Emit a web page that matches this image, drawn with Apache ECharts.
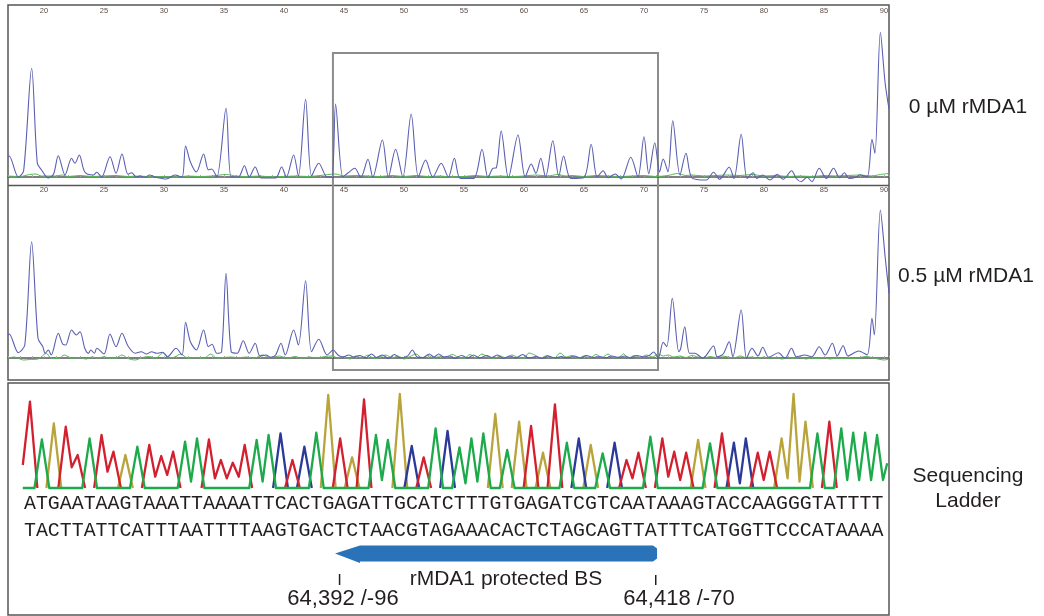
<!DOCTYPE html>
<html>
<head>
<meta charset="utf-8">
<script src="https://cdn.jsdelivr.net/npm/echarts@6/dist/echarts.min.js"></script>
<style>html,body{margin:0;padding:0;background:#fff;}#c{width:1044px;height:616px;}</style>
</head>
<body>
<div id="c"></div>
<script>
// ---------- DATA ----------
// Ruler (base position) tick labels every 5: 20 ... 90
var rulerLabels = [20, 25, 30, 35, 40, 45, 50, 55, 60, 65, 70, 75, 80, 85, 90];

// Panel 1: 0 µM rMDA1 — blue (FAM) trace points [position, signal]
var p1Blue = [[17.0,20],[17.1,21],[17.86,0],[18.3,6],[18.97,108.7],[19.44,14],[19.8,7],[20.36,-1],[20.8,3],[21.19,21.3],[21.75,2],[22.3,18.7],[22.58,13.7],[22.94,22],[23.4,5],[24.1,2],[24.4,4.7],[24.8,0],[25.5,20.3],[26.0,3.7],[26.5,23],[27.0,2.7],[27.3,4.3],[27.7,0],[28.0,1],[28.4,-0.3],[28.8,2],[29.25,0],[30.2,-2],[30.9,2],[31.5,0],[31.8,31],[32.2,15],[32.7,5],[33.3,23],[33.7,7],[33.97,8],[34.4,0],[35.17,68.7],[35.6,0],[36.2,0],[36.7,11.3],[37.1,0],[37.6,10],[38.1,-1],[39.3,-1],[39.8,10],[40.2,0],[40.8,22],[41.2,1],[41.8,77.7],[42.3,1],[42.9,13.7],[43.6,0],[44.0,0],[44.3,73],[44.9,0],[45.3,3.7],[45.9,8.7],[46.4,-0.5],[47.0,17.7],[47.4,0],[48.2,37],[48.7,0],[49.3,27.7],[49.9,0],[50.6,63],[51.2,0],[51.8,17],[52.4,0],[53.1,13.7],[53.7,0],[54.2,18.7],[54.7,-1.5],[55.8,-1.5],[56.5,27.7],[57.0,-0.8],[57.4,8.7],[57.7,9.3],[58.1,46],[58.7,-0.8],[59.5,42],[60.1,0],[60.6,13],[61.0,3.7],[61.4,18.7],[61.8,0],[62.4,36.3],[62.9,0.7],[63.3,21],[63.9,-1.5],[65.0,-0.5],[65.6,32.7],[66.1,0],[66.6,6.3],[67.0,-0.8],[67.6,3],[68.1,-2],[68.9,19.7],[69.5,0],[70.0,40.3],[70.4,3.3],[70.9,34.3],[71.3,5],[71.6,18],[72.0,5.3],[72.4,56.3],[73.0,2],[73.5,23.7],[74.0,-0.8],[75.2,-3],[75.8,4.7],[76.3,-2.3],[77.1,9.7],[77.5,-1.5],[78.1,42.7],[78.6,-1.5],[79.1,4.3],[79.4,-1.5],[79.9,2],[80.5,-3],[81.1,2.7],[81.6,-2.3],[82.3,6.3],[82.7,-1.5],[83.1,-4.7],[83.6,-0.3],[84.0,-4.7],[84.6,8.7],[85.2,-1.5],[85.8,8.7],[86.3,-0.8],[86.7,4.3],[87.1,-1.5],[87.7,0],[88.0,2.3],[88.6,0],[89.0,37.7],[89.25,23.7],[89.7,144.7],[90.1,93.7],[90.42,68]];

// Panel 1: green (size standard) trace
var p1Green = [[17,1],[18,0.5],[18.8,2.5],[19.3,3],[19.8,1],[21,1],[21.5,2],[22,0.5],[23,1.5],[24,0.5],[25,1],[26,1.5],[27,0.5],[28,1],[29,0],[30,0.5],[31,0],[32,1],[33,0.5],[34,1],[35.2,2.5],[36,1],[37,0.5],[38,1],[39,0],[40,0.5],[41,1],[42,0.5],[43,1.5],[44.3,3],[45,1],[46,1.5],[47,1],[48,0.5],[49,1.5],[50,0.5],[51,1.5],[52,0.5],[53,1],[54,0],[55,0.5],[56,1.5],[57,0.5],[58,1],[59,0.5],[60,1],[61,2],[62,1],[62.8,2.5],[63.5,1],[64,1.5],[65,0.5],[66,1.5],[67,1],[68,0.5],[69,1],[70,1.5],[71,0.5],[72,1.5],[72.8,3.5],[73.5,1.5],[74,2],[75,1],[76,1.5],[77,2],[78,1.5],[79,2.5],[80,1],[81,1.5],[82,0.5],[83,1],[84,0.5],[85,1.5],[86,1],[87,1.5],[88,2],[89,1],[89.7,2.5],[90.42,3.5]];

// Panel 2: 0.5 µM rMDA1 — blue trace
var p2Blue = [[17.0,23],[17.1,24],[17.86,5.3],[18.4,13],[18.97,116.3],[19.5,19.7],[19.9,11.3],[20.1,4.7],[20.36,8],[20.6,3],[21.19,24.7],[21.55,14],[21.8,13],[22.3,28],[22.7,23],[23.0,26.3],[23.4,9.7],[23.7,4.7],[23.9,8],[24.2,4.7],[24.4,9.7],[25.0,4],[25.5,24],[26.0,11.3],[26.5,24.7],[27.0,12],[27.6,4.7],[28.1,6.3],[28.55,4],[28.97,6.3],[29.4,4.7],[29.9,5.7],[30.3,1.3],[31.0,9.7],[31.5,3],[31.8,35.7],[32.2,16.3],[32.7,8],[33.3,28],[33.7,11.3],[34.0,13.7],[34.4,4.7],[34.8,6.3],[35.17,84.7],[35.6,6.3],[36.1,4.7],[36.6,17.3],[37.1,4.7],[37.6,14.7],[38.0,2],[38.5,3],[38.9,0.7],[39.3,3],[39.75,14.7],[40.1,3],[40.8,28],[41.2,13],[41.8,77.3],[42.3,6.3],[42.9,18.7],[43.6,3],[44.1,8],[44.5,3],[44.9,1],[45.4,3],[45.8,1],[46.3,2.5],[46.8,0],[47.3,4],[47.7,0.5],[48.2,3],[48.7,-0.5],[49.2,3.5],[49.7,0],[50.3,2],[50.7,8],[51.1,1],[51.6,0.5],[52.1,4],[52.5,1],[52.9,4],[53.3,1],[53.8,2],[54.2,-0.5],[54.8,2.5],[55.3,0],[55.8,3],[56.3,0],[56.9,2.5],[57.3,0.5],[57.8,3],[58.3,-0.5],[58.8,2],[59.3,0],[59.9,3.5],[60.4,0],[61,1.5],[61.5,-0.5],[62,2],[62.6,0],[63.1,1.5],[63.6,0],[64.2,2],[64.7,0],[65.2,2.5],[65.8,0.5],[66.3,1.5],[66.8,0],[67.3,2],[67.9,0.5],[68.4,2],[68.9,0],[69.4,2.5],[70,1],[70.5,3],[70.8,6],[71.2,0.5],[71.6,15.7],[71.9,11.3],[72.36,59.7],[72.9,6.3],[73.05,9],[73.4,31.3],[73.8,4.7],[74.25,4.7],[74.9,-0.3],[75.8,12],[76.1,1.3],[76.6,4],[77.1,16.3],[77.4,1.3],[78.1,48],[78.55,-0.3],[79.0,9.7],[79.5,2],[79.9,10.7],[80.4,0.7],[81.2,5.3],[81.75,-0.3],[82.3,9.7],[82.7,1.3],[83.4,3],[84.0,1.3],[84.6,11.3],[85.1,3],[85.7,14.7],[86.1,2],[86.6,12.3],[87.0,2],[87.9,7],[88.6,3],[89.0,39.7],[89.2,23],[89.7,148],[90.1,101],[90.42,65]];

// Panel 2: green trace
var p2Green = [[17,-0.3],[17.5,1],[17.9,-0.5],[18.3,-2],[18.8,-1.5],[19.5,-1],[20.2,4.7],[20.6,-0.3],[21.2,-0.5],[21.7,3],[22.3,-0.3],[22.9,0.5],[23.5,-1],[24.0,1],[24.5,0],[25.0,1.3],[25.5,-0.3],[26.0,0],[26.5,3],[27.0,-0.5],[27.6,-2],[28.2,0.5],[28.8,1.5],[29.3,-0.5],[29.9,5.3],[30.4,-0.3],[30.9,1],[31.4,4],[32.0,-0.3],[32.7,0.5],[33.3,-0.5],[33.9,4],[34.4,-0.3],[35.0,0.5],[35.6,1],[36.2,0.3],[36.9,1],[37.5,-0.3],[38.2,3],[38.9,0.3],[39.6,2],[40.3,-0.3],[40.9,1.5],[41.5,-0.3],[42.1,1],[42.8,0],[43.4,1.5],[44,2],[44.5,0],[45,1.5],[45.5,-1],[46,2],[46.5,0],[47,3],[47.5,-0.5],[48,1],[48.5,3],[49,0],[49.5,2],[50,-1],[50.5,1.5],[51,4],[51.5,0],[52,2.5],[52.5,-0.5],[53,2],[53.5,0.5],[54,3.5],[54.5,1],[55,-0.5],[55.5,3.5],[56,0],[56.5,4],[57,1],[57.5,-0.5],[58,2],[58.5,0],[59,3],[59.5,0.5],[60,-0.5],[60.4,5],[60.9,3],[61.4,0],[61.9,2.5],[62.5,-0.5],[63,5],[63.5,1],[64,2.5],[64.5,-0.5],[65,2],[65.5,0],[66,3.5],[66.5,0.5],[67,4],[67.5,0],[68,1.5],[68.3,4],[68.7,0],[69.2,2.5],[69.7,0.5],[70.2,3],[70.7,1],[71.2,4],[71.6,2],[72,3],[72.5,1],[73,2],[73.5,0.5],[74,2.5],[74.5,1],[75,-0.3],[75.5,1.5],[76,0.5],[76.5,2],[77,1],[77.5,0],[78,2],[78.5,0.5],[79,1],[79.5,-0.5],[80,1],[80.5,-0.3],[81,0.5],[81.5,-1],[82,0.5],[82.5,-0.5],[83,1],[83.5,-1],[84,0],[84.5,-0.5],[85,0.5],[85.5,-1],[86,0],[86.5,-0.5],[87,0],[87.5,-0.5],[88,0.5],[88.5,1.5],[89,0.5],[89.5,-1],[90,-2],[90.42,-1]];

// Sequencing ladder
var seqTop    = "ATGAATAAGTAAATTAAAATTCACTGAGATTGCATCTTTGTGAGATCGTCAATAAAGTACCAAGGGTATTTT";
var seqBottom = "TACTTATTCATTTAATTTTAAGTGACTCTAACGTAGAAACACTCTAGCAGTTATTTCATGGTTCCCATAAAA";
// peak height per base (index 0..71)
var peakHeights = [86.3,48.7,64.7,61.3,33,49.7,53,36.3,33,41.3,43,32,36.3,46.3,49.7,48.7,28,25.3,43,48,53,54.7,28,41.3,55.3,93,49.7,30.7,88.7,53,48,94,42,30.7,59.7,57,40.7,49.7,54.7,74,38,66.3,62,35.3,83.7,45.3,49.7,43,34.7,45.3,28,35.3,51.3,49.7,36.3,35.3,48,44.7,54.7,45.3,49.7,35.3,36.3,49.7,94,66.3,54.7,66.3,59.7,55.3,55.3,53];
// valley height between base i and i+1 when both carry the same base
var valleyAfter = {3:20.7,6:16.3,10:11.3,11:13,13:6.3,15:9.7,16:9.7,17:11.3,19:6.3,29:8,36:4.7,37:6.3,50:9.7,53:11.3,54:8,59:4.7,61:8,63:9.7,64:6.3,68:8,69:8,70:8};
// signal at left / right edge of the ladder window
var edgeLeft  = {A: 23};
var edgeRight = {T: 24.7};
var baseColors = {G:'#b9a33b', C:'#2b3a98', A:'#d3202f', T:'#1caa4b'};
var baseZ = {G: 2, C: 3, A: 4, T: 8};
var baseOrder = ['G','C','A','T'];
var baselineBase = 'T'; // the trace whose baseline is drawn continuously

// Annotation positions (base index in the ladder window)
var bsArrow = {tip: 25.57, head: 27.66, end: 52.56};
var bsTicks = [25.95, 52.45];
var bsLabels = ["64,392 /-96", "64,418 /-70"];
// Highlighted window (ruler units / signal)
var boxRange = {x0: 44.08, x1: 71.17, yTopP1: 124, yBotP2: -12};

// ---------- BUILD ----------
var HALF = 0.62; // half width of a ladder peak foot, in bases (shape only)
function ladderSeries(c) {
  var pts = [];
  var n = seqTop.length;
  var full = (c === baselineBase);
  if (full || edgeLeft[c]) pts.push([-0.6, edgeLeft[c] || 0]);
  for (var i = 0; i < n; i++) {
    if (seqTop[i] !== c) continue;
    var prevSame = i > 0 && seqTop[i-1] === c;
    if (!prevSame && !(i === 0 && edgeLeft[c])) pts.push([i - HALF, 0]);
    pts.push([i, peakHeights[i]]);
    if (i < n - 1 && seqTop[i+1] === c) pts.push([i + 0.5, valleyAfter[i]]);
    else if (i === n - 1 && edgeRight[c]) pts.push([i + 0.5, 8]);
    else {
      pts.push([i + HALF, 0]);
      if (!full) pts.push([i + HALF + 0.001, '-']);
    }
  }
  if (full || edgeRight[c]) pts.push([71.85, edgeRight[c] || 0]);
  return pts;
}

var chart = echarts.init(document.getElementById('c'), null, {renderer: 'canvas'});
var sansFont = "'Liberation Sans', Arial, Helvetica, sans-serif";

function rulerAxis(gi) {
  return {
    type: 'value', gridIndex: gi, position: 'top', min: 17, max: 90.42, interval: 1,
    axisLine: {show: true, lineStyle: {color: '#555', width: 1.5}},
    axisTick: {show: true, length: 2, lineStyle: {color: '#aaa', width: 1}},
    axisLabel: {show: true, fontSize: 7.5, color: '#5e4c46', margin: 2, fontFamily: sansFont,
      formatter: function (v) { return rulerLabels.indexOf(v) >= 0 ? String(v) : ''; }},
    splitLine: {show: false}
  };
}

var series = [
  {type: 'line', xAxisIndex: 0, yAxisIndex: 0, data: p1Green, symbol: 'none', smooth: 0.3, lineStyle: {color: '#55b855', width: 1}, silent: true},
  {type: 'line', xAxisIndex: 0, yAxisIndex: 0, data: p1Blue, symbol: 'none', smooth: 0.3, lineStyle: {color: '#5a5fb2', width: 1.1}, silent: true},
  {type: 'line', xAxisIndex: 1, yAxisIndex: 1, data: p2Green, symbol: 'none', smooth: 0.3, lineStyle: {color: '#55b855', width: 1}, silent: true},
  {type: 'line', xAxisIndex: 1, yAxisIndex: 1, data: p2Blue, symbol: 'none', smooth: 0.3, lineStyle: {color: '#5a5fb2', width: 1.1}, silent: true}
];
baseOrder.forEach(function (c) {
  series.push({type: 'line', xAxisIndex: 2, yAxisIndex: 2, data: ladderSeries(c), symbol: 'none', z: baseZ[c],
    connectNulls: false, smooth: false, lineStyle: {color: baseColors[c], width: 2.3, join: 'round'}, silent: true, clip: false});
});

chart.setOption({
  animation: false,
  backgroundColor: '#fff',
  grid: [
    {left: 8, width: 881, top: 17, height: 166},
    {left: 8, width: 881, top: 196, height: 184},
    {left: 22.8, width: 864.4, top: 390, height: 100}
  ],
  xAxis: [rulerAxis(0), rulerAxis(1),
    {type: 'value', gridIndex: 2, min: -0.6, max: 71.85, show: false}],
  yAxis: [
    {type: 'value', gridIndex: 0, min: -6, max: 160, show: false},
    {type: 'value', gridIndex: 1, min: -22, max: 162, show: false},
    {type: 'value', gridIndex: 2, min: -2, max: 98, show: false}
  ],
  series: series
});

// ---------- ANNOTATIONS ----------
function px1(x, y) { return chart.convertToPixel({xAxisIndex: 0, yAxisIndex: 0}, [x, y]); }
function px2(x, y) { return chart.convertToPixel({xAxisIndex: 1, yAxisIndex: 1}, [x, y]); }
function px3(x) { return chart.convertToPixel({xAxisIndex: 2, yAxisIndex: 2}, [x, 0])[0]; }

var bTL = px1(boxRange.x0, boxRange.yTopP1);
var bBR = px2(boxRange.x1, boxRange.yBotP2);
var tipX = px3(bsArrow.tip), headX = px3(bsArrow.head), endX = px3(bsArrow.end);
var t1 = px3(bsTicks[0]), t2 = px3(bsTicks[1]);
var aTop = 545.5, aBot = 561.5, aMid = 553.5;

var textStyle = function (txt, x, y, size, align, font) {
  return {type: 'text', x: x, y: y, silent: true,
    style: {text: txt, fill: '#231f20', font: size + 'px ' + (font || sansFont), textAlign: align || 'center', textVerticalAlign: 'middle'}};
};

chart.setOption({
  graphic: [
    // panel frames
    {type: 'rect', shape: {x: 8, y: 5, width: 881, height: 375}, style: {fill: 'none', stroke: '#555', lineWidth: 1.5}, silent: true},
    {type: 'line', shape: {x1: 8, y1: 185.5, x2: 889, y2: 185.5}, style: {stroke: '#555', lineWidth: 1.5}, silent: true},
    {type: 'rect', shape: {x: 8, y: 383, width: 881, height: 232}, style: {fill: 'none', stroke: '#555', lineWidth: 1.5}, silent: true},
    // highlight box
    {type: 'rect', shape: {x: bTL[0], y: bTL[1], width: bBR[0] - bTL[0], height: bBR[1] - bTL[1]}, style: {fill: 'none', stroke: '#8c8c8c', lineWidth: 2}, silent: true},
    // sequences
    textStyle(seqTop, 24, 504, 19.9, 'left', "'Liberation Mono', 'Courier New', monospace"),
    textStyle(seqBottom, 24, 531, 19.9, 'left', "'Liberation Mono', 'Courier New', monospace"),
    // protected binding site arrow
    {type: 'polygon', silent: true, shape: {points: [[tipX, aMid], [headX, aTop], [endX - 4, aTop], [endX, aTop + 3], [endX, aBot - 3], [endX - 4, aBot], [headX, aBot], [headX, aBot + 1.5]]}, style: {fill: '#2b73b9'}},
    {type: 'line', silent: true, shape: {x1: t1, y1: 574, x2: t1, y2: 585}, style: {stroke: '#231f20', lineWidth: 1.5}},
    {type: 'line', silent: true, shape: {x1: t2, y1: 575, x2: t2, y2: 585}, style: {stroke: '#231f20', lineWidth: 1.5}},
    textStyle('rMDA1 protected BS', 506, 579, 21),
    textStyle(bsLabels[0], 343, 598.5, 22),
    textStyle(bsLabels[1], 679, 598.5, 22),
    // right-hand labels
    textStyle('0 µM rMDA1', 968, 107, 21),
    textStyle('0.5 µM rMDA1', 966, 276, 21),
    textStyle('Sequencing', 968, 476, 21),
    textStyle('Ladder', 968, 501, 21)
  ]
});
</script>
</body>
</html>
